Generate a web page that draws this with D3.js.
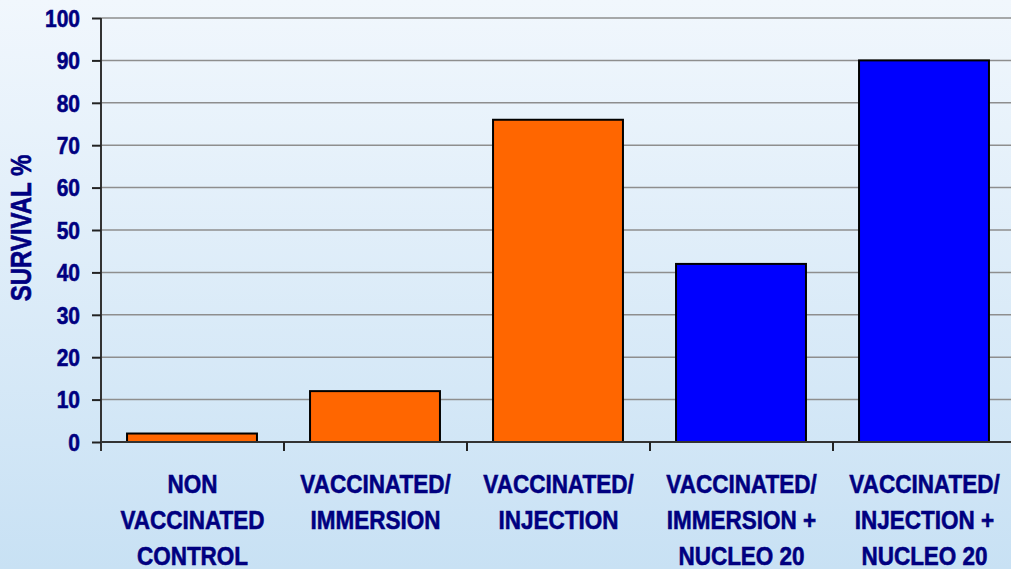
<!DOCTYPE html>
<html>
<head>
<meta charset="utf-8">
<script src="https://cdn.jsdelivr.net/npm/d3@7"></script>
<style>
  html, body { margin: 0; padding: 0; overflow: hidden; }
  svg { display: block; }
</style>
</head>
<body>
<svg id="chart" width="1011" height="569"></svg>
<script>
const categories = [
  ["NON", "VACCINATED", "CONTROL"],
  ["VACCINATED/", "IMMERSION"],
  ["VACCINATED/", "INJECTION"],
  ["VACCINATED/", "IMMERSION +", "NUCLEO 20"],
  ["VACCINATED/", "INJECTION +", "NUCLEO 20"]
];
const survival = [2, 12, 76, 42, 90];
const barColors = ["#FF6600", "#FF6600", "#FF6600", "#0000FF", "#0000FF"];
const yTicks = [0, 10, 20, 30, 40, 50, 60, 70, 80, 90, 100];
const yTitle = "SURVIVAL %";

const W = 1011, H = 569;
const svg = d3.select("#chart");
const textColor = "#000080";
const font = "'Liberation Sans', Arial, Helvetica, sans-serif";

const defs = svg.append("defs");
const grad = defs.append("linearGradient").attr("id", "bg").attr("x1", 0).attr("y1", 0).attr("x2", 0).attr("y2", 1);
grad.append("stop").attr("offset", "0%").attr("stop-color", "#f1f7fd");
grad.append("stop").attr("offset", "100%").attr("stop-color", "#c8e1f4");
svg.append("rect").attr("width", W).attr("height", H).attr("fill", "url(#bg)");

const x = d3.scaleBand().domain(d3.range(categories.length)).range([101, 1016]).padding(0);
const y = d3.scaleLinear().domain([0, 100]).range([442, 18]);

// gridlines
svg.append("g").selectAll("line").data(yTicks.filter(d => d > 0)).join("line")
  .attr("x1", 101).attr("x2", 1016)
  .attr("y1", d => y(d)).attr("y2", d => y(d))
  .attr("stroke", "#8e8e8e").attr("stroke-width", 1.5);

// bars
const bw = x.bandwidth() * 0.71;
svg.append("g").selectAll("rect").data(survival).join("rect")
  .attr("x", (d, i) => x(i) + x.bandwidth() / 2 - bw / 2 - 0.5)
  .attr("y", d => y(d))
  .attr("width", bw)
  .attr("height", d => y(0) - y(d))
  .attr("fill", (d, i) => barColors[i])
  .attr("stroke", "#000").attr("stroke-width", 2);

// y axis
const yAxis = d3.axisLeft(y).tickValues(yTicks).tickSize(9).tickFormat("");
const gy = svg.append("g").attr("transform", "translate(101,0)").call(yAxis);
gy.select(".domain").attr("stroke", "#333").attr("stroke-width", 2).attr("d", "M0,18V451");
gy.selectAll(".tick line").attr("stroke", "#222").attr("stroke-width", 2);

// x axis
const gx = svg.append("g").attr("transform", "translate(0,442)");
gx.append("line").attr("x1", 101).attr("x2", 1016).attr("stroke", "#333").attr("stroke-width", 2);
gx.selectAll("line.tk").data(d3.range(1, categories.length)).join("line").attr("class", "tk")
  .attr("x1", d => x(d)).attr("x2", d => x(d)).attr("y1", 0).attr("y2", 9)
  .attr("stroke", "#222").attr("stroke-width", 2);

// y tick labels
svg.append("g").selectAll("text").data(yTicks).join("text")
  .attr("transform", d => `translate(80,${y(d) + 8.7}) scale(1,1.17)`)
  .attr("text-anchor", "end")
  .attr("font-family", font).attr("font-weight", "bold").attr("font-size", 21)
  .attr("fill", textColor).attr("stroke", textColor).attr("stroke-width", 0.5)
  .text(d => d);

// category labels
const cl = svg.append("g").selectAll("text").data(categories).join("text")
  .attr("transform", (d, i) => `translate(${x(i) + x.bandwidth() / 2},493) scale(1,1.17)`)
  .attr("text-anchor", "middle")
  .attr("font-family", font).attr("font-weight", "bold").attr("font-size", 22.5)
  .attr("fill", textColor).attr("stroke", textColor).attr("stroke-width", 0.5);
cl.selectAll("tspan").data(d => d).join("tspan")
  .attr("x", 0).attr("dy", (d, j) => j === 0 ? 0 : 36 / 1.17)
  .text(d => d);

// y title
svg.append("text")
  .attr("transform", "translate(31,228) rotate(-90) scale(1,1.2)")
  .attr("text-anchor", "middle")
  .attr("font-family", font).attr("font-weight", "bold").attr("font-size", 24)
  .attr("fill", textColor).attr("stroke", textColor).attr("stroke-width", 0.5)
  .text(yTitle);
</script>
</body>
</html>
